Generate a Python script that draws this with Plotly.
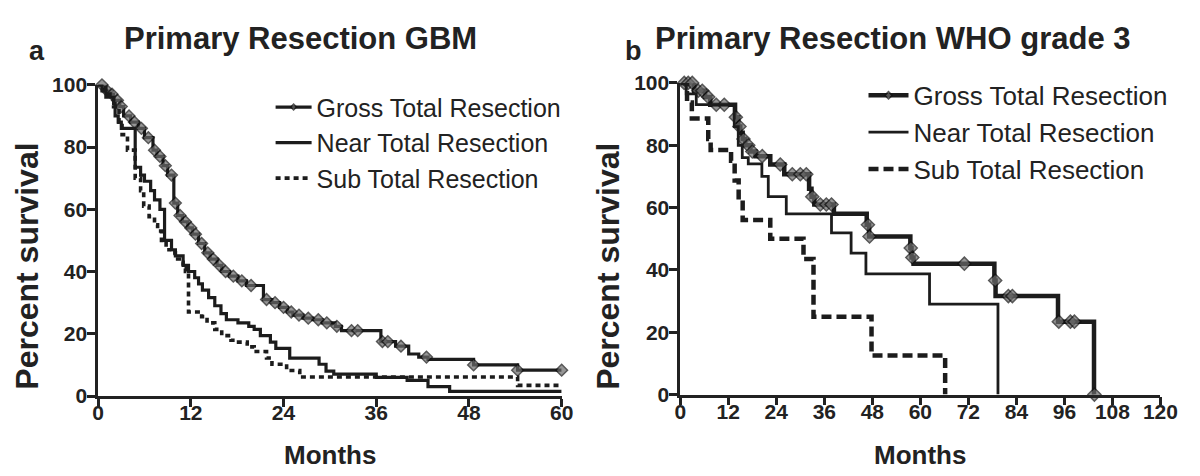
import plotly.graph_objects as go

# ---------------- data ----------------
# Panel a: Primary Resection GBM (months, percent survival)
gbm_gtr_t = [0, 0.8, 1.5, 2.0, 2.8, 3.3, 4.2, 5.2, 6.0, 7.1, 7.6, 8.4, 9.0, 9.8, 10.3, 10.9, 11.6,
             12.2, 13.0, 13.8, 14.5, 15.4, 16.0, 17.0, 18.1, 19.2, 21.4, 22.5, 23.5, 24.5, 25.2,
             26.5, 27.8, 29.0, 30.7, 31.5, 36.6, 38.5, 40.2, 41.5, 42.7, 48.6, 54.3, 60.0]
gbm_gtr_s = [100, 98, 97, 95, 93, 90, 88, 86, 83, 79, 77, 74, 71, 62, 58, 56, 54,
             52, 49, 46, 44, 42, 40, 38.5, 37, 35.5, 31, 30, 28.5, 27, 26,
             25, 24.5, 23.5, 22.4, 21, 17.5, 16, 13.5, 12.5, 11.8, 10, 8.3, 8.3]
gbm_gtr_cens = [0.5, 1.2, 1.8, 2.5, 3.0, 4.0, 4.7, 5.6, 6.5, 7.3, 8.0, 8.7, 9.5, 10.0, 10.6, 11.3,
                12.0, 12.6, 13.4, 14.2, 14.9, 15.7, 16.5, 17.5, 18.6, 19.8, 21.8, 22.9, 24.0, 25.0,
                26.0, 27.2, 28.5, 29.6, 30.9, 32.8, 33.6, 36.8, 37.5, 39.2, 42.5, 48.6, 54.3, 60.0]

gbm_ntr_t = [0, 0.5, 1.0, 2.0, 2.2, 2.6, 3.0, 4.8, 5.5, 6.0, 6.8, 7.3, 8.0, 8.6, 9.5, 10.0, 11.0,
             11.7, 12.5, 13.0, 13.5, 14.3, 15.1, 15.9, 16.6, 18.1, 19.5, 20.2, 21.0, 22.3, 23.0,
             24.8, 28.6, 29.5, 30.5, 36.0, 40.0, 42.7, 45.5, 60.0]
gbm_ntr_s = [100, 98, 96, 94, 90, 88, 86, 73.5, 71, 69, 66, 63, 60, 50, 47, 45, 42,
             40, 38, 36, 34, 31.6, 29, 26.5, 24.5, 23.5, 22.4, 21.4, 19.4, 17.3, 15.3,
             12.2, 10.2, 8, 7, 6, 5, 3, 1.5, 1.5]

gbm_str_t = [0, 1.0, 2.0, 2.7, 3.1, 3.8, 4.8, 5.5, 5.9, 6.6, 7.3, 7.7, 8.2, 8.8, 9.4, 10.0, 10.5,
             11.0, 11.3, 11.7, 13.4, 14.1, 15.1, 16.0, 17.2, 17.8, 19.3, 20.2, 21.8, 22.5, 24.4,
             26.1, 54.3, 60.0]
gbm_str_s = [100, 97, 93, 88, 84, 79, 70, 66, 61, 57.6, 55, 53, 50, 47, 46, 44, 43,
             41, 40, 27, 25.5, 23.5, 21.4, 19.4, 17.9, 17.3, 15.8, 14.3, 12.2, 10.2, 8.2,
             6.1, 3.4, 3.4]

# Panel b: Primary Resection WHO grade 3
w3_gtr_t = [0, 3.5, 6.2, 7.5, 13.7, 14.5, 15.0, 15.6, 16.2, 17.5, 18.8, 22.5, 26.0, 32.2, 32.8,
            33.5, 38.4, 46.6, 47.2, 57.5, 57.8, 58.3, 78.5, 78.8, 94.4, 103.4]
w3_gtr_s = [100, 97.5, 95.5, 93, 89, 86, 84, 82, 80, 78, 76.5, 73.8, 70.7, 66, 63.5,
            61, 58, 54.5, 50.7, 47, 44, 42, 36.6, 31.6, 23.4, 0]
w3_gtr_cens = [1.0, 2.0, 3.0, 4.5, 5.5, 7.0, 9.0, 11.0, 13.9, 14.8, 15.8, 17.0, 18.0, 20.5, 25.0,
               28.0, 30.0, 31.5, 33.0, 35.0, 36.5, 37.8, 46.9, 47.3, 57.6, 58.0, 71.0, 78.7,
               82.0, 83.0, 94.6, 97.5, 98.5, 103.5]

w3_ntr_t = [0, 1.5, 4.0, 13.5, 14.5, 15.5, 17.0, 20.4, 22.0, 26.5, 37.8, 42.7, 46.4, 62.3, 79.4]
w3_ntr_s = [100, 96.5, 93, 86, 80, 76, 74, 70, 63.5, 58, 51.9, 45.4, 38.7, 29, 0]

w3_str_t = [0, 1.7, 2.9, 7.0, 7.6, 12.7, 13.6, 14.6, 15.6, 22.5, 30.8, 33.3, 47.8, 66.2]
w3_str_s = [100, 93.7, 88.6, 82, 78.5, 75, 68.7, 62.5, 56, 50, 43.5, 25, 12.5, 0]

gbm_xticks = [0, 12, 24, 36, 48, 60]
w3_xticks = [0, 12, 24, 36, 48, 60, 72, 84, 96, 108, 120]
y_ticks = [0, 20, 40, 60, 80, 100]
series_names = ["Gross Total Resection", "Near Total Resection", "Sub Total Resection"]
panel_titles = ["Primary Resection GBM", "Primary Resection WHO grade 3"]
panel_letters = ["a", "b"]

# ---------------- helpers ----------------
def step_value(ts, ss, t):
    v = ss[0]
    for ti, si in zip(ts, ss):
        if ti <= t:
            v = si
    return v


def with_censors(ts, ss, cens, msize):
    pts = [(t, s, 0) for t, s in zip(ts, ss)] + [(c, step_value(ts, ss, c), msize) for c in cens]
    pts.sort(key=lambda p: (p[0], p[2]))
    return [p[0] for p in pts], [p[1] for p in pts], [p[2] for p in pts]


INK = "#1c1c1c"
TXT = "#222222"
FONT = "Liberation Sans, Arial, sans-serif"

fig = go.Figure()

# Panel a
gx, gy, gs = with_censors(gbm_gtr_t, gbm_gtr_s, gbm_gtr_cens, 9)
fig.add_trace(go.Scatter(x=gx, y=gy, mode="lines+markers", name=series_names[0],
                         line=dict(shape="hv", color=INK, width=3.2),
                         marker=dict(symbol="diamond", size=gs, color="#6a6a6a",
                                     line=dict(color="#111", width=1.5)),
                         cliponaxis=False, xaxis="x", yaxis="y", legend="legend"))
fig.add_trace(go.Scatter(x=gbm_ntr_t, y=gbm_ntr_s, mode="lines", name=series_names[1],
                         line=dict(shape="hv", color=INK, width=3.2),
                         cliponaxis=False, xaxis="x", yaxis="y", legend="legend"))
fig.add_trace(go.Scatter(x=gbm_str_t, y=gbm_str_s, mode="lines", name=series_names[2],
                         line=dict(shape="hv", color=INK, width=3.6, dash="5px,4px"),
                         cliponaxis=False, xaxis="x", yaxis="y", legend="legend"))

# Panel b
wx, wy, ws = with_censors(w3_gtr_t, w3_gtr_s, w3_gtr_cens, 10)
fig.add_trace(go.Scatter(x=wx, y=wy, mode="lines+markers", name=series_names[0],
                         line=dict(shape="hv", color=INK, width=4.5),
                         marker=dict(symbol="diamond", size=ws, color="#6a6a6a",
                                     line=dict(color="#111", width=1.5)),
                         cliponaxis=False, xaxis="x2", yaxis="y2", legend="legend2"))
fig.add_trace(go.Scatter(x=w3_ntr_t, y=w3_ntr_s, mode="lines", name=series_names[1],
                         line=dict(shape="hv", color=INK, width=2.8),
                         cliponaxis=False, xaxis="x2", yaxis="y2", legend="legend2"))
fig.add_trace(go.Scatter(x=w3_str_t, y=w3_str_s, mode="lines", name=series_names[2],
                         line=dict(shape="hv", color=INK, width=4.5, dash="10px,5px"),
                         cliponaxis=False, xaxis="x2", yaxis="y2", legend="legend2"))

W, H = 1200, 476


def px_x(p):
    return p / W


def px_y(p):
    return (H - p) / H


axis_common = dict(showline=True, linewidth=2.6, linecolor=TXT, ticks="outside", ticklen=8,
                   tickwidth=2.6, tickcolor=TXT, showgrid=False, zeroline=False,
                   tickfont=dict(family=FONT, size=21, color=TXT, weight="bold"))

fig.update_layout(
    width=W, height=H, margin=dict(l=0, r=0, t=0, b=0),
    paper_bgcolor="white", plot_bgcolor="white",
    xaxis=dict(domain=[px_x(94), px_x(567)], range=[0, 60], tickvals=gbm_xticks, anchor="y",
               ticklabelstandoff=-12, **axis_common),
    yaxis=dict(domain=[px_y(403.5), px_y(76.5)], range=[0, 100], tickvals=y_ticks, anchor="x",
               ticklabelstandoff=-4, **axis_common),
    xaxis2=dict(domain=[px_x(688), px_x(1178)], range=[0, 120], tickvals=w3_xticks, anchor="y2",
                ticklabelstandoff=-12, **axis_common),
    yaxis2=dict(domain=[px_y(402), px_y(74.5)], range=[0, 100], tickvals=y_ticks, anchor="x2",
                ticklabelstandoff=-4, **axis_common),
    legend=dict(x=px_x(270), y=px_y(76), xanchor="left", yanchor="top", itemwidth=36,
                font=dict(family=FONT, size=25, color=TXT), bgcolor="rgba(0,0,0,0)",
                tracegroupgap=0),
    legend2=dict(x=px_x(875), y=px_y(63), xanchor="left", yanchor="top", itemwidth=40,
                 font=dict(family=FONT, size=26, color=TXT), bgcolor="rgba(0,0,0,0)",
                 tracegroupgap=0),
    showlegend=True,
)

ann = []
for title, cx in zip(panel_titles, [300, 905]):
    ann.append(dict(text=title, x=px_x(cx), y=px_y(28), xref="paper", yref="paper",
                    xanchor="center", yanchor="middle", showarrow=False,
                    font=dict(family=FONT, size=31, color=TXT, weight="bold")))
for letter, lx in zip(panel_letters, [32, 640]):
    ann.append(dict(text=letter, x=px_x(lx), y=px_y(41), xref="paper", yref="paper",
                    xanchor="center", yanchor="middle", showarrow=False,
                    font=dict(family=FONT, size=27, color=TXT, weight="bold")))
for mx in [331, 933]:
    ann.append(dict(text="Months", x=px_x(mx), y=px_y(466), xref="paper", yref="paper",
                    xanchor="center", yanchor="middle", showarrow=False,
                    font=dict(family=FONT, size=26, color=TXT, weight="bold")))
for px_ in [22, 614]:
    ann.append(dict(text="Percent survival", x=px_x(px_), y=px_y(267), xref="paper", yref="paper",
                    xanchor="center", yanchor="middle", showarrow=False, textangle=-90,
                    font=dict(family=FONT, size=32, color=TXT, weight="bold")))
fig.update_layout(annotations=ann)

fig.write_html("out.html", config={"displayModeBar": False},
               post_script="document.body.style.margin='0';")
